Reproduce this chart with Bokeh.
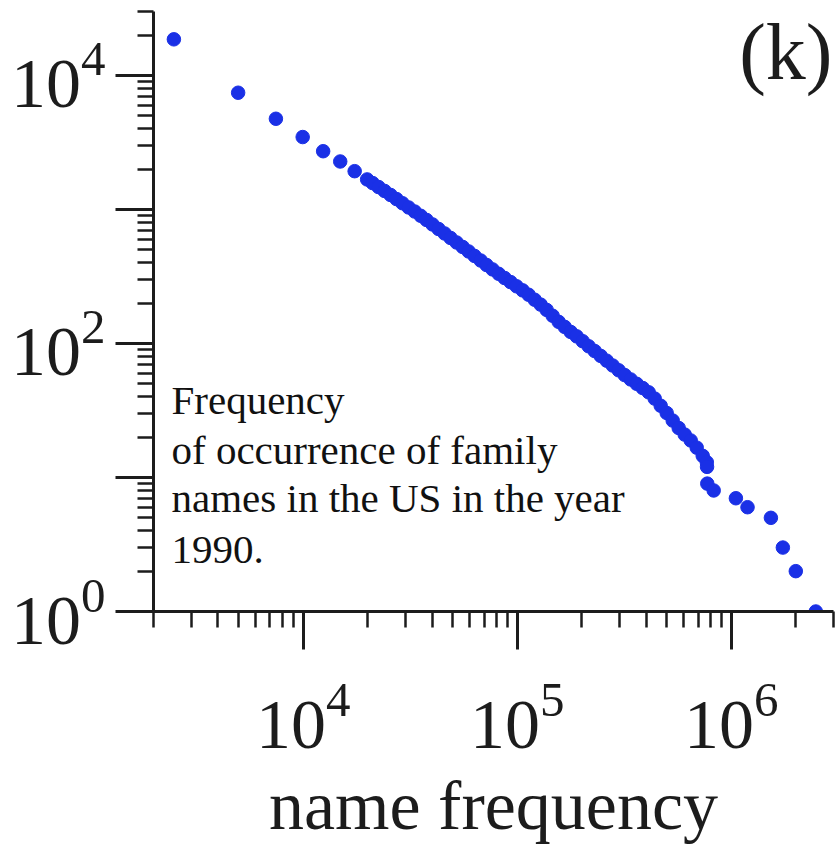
from bokeh.plotting import figure
from bokeh.models import Range1d, Label, LogTicker
from bokeh.embed import file_html
from bokeh.resources import INLINE

# ---- data (cumulative count of family names vs. name frequency) ----
name_freq = [
    2490, 4970, 7460, 9950, 12400, 14900, 17400, 19900,
    21100, 22500, 24000, 25600, 27300, 29100, 31100, 33200, 35400, 37700,
    40200, 42900, 45800, 48800, 52100, 55600, 59300, 63200, 67500, 71900,
    76700, 81900, 87300, 93100, 99300, 106000, 113000, 120600, 128600, 137200,
    146300, 156100, 166500, 177600, 189500, 202100, 215600, 230000, 245300, 261700,
    279100, 297700, 317600, 338800, 361300, 385500, 411100, 438500, 467700, 498900,
    532200, 567700, 605500, 646000, 689000, 735000,
    768000, 770000, 772000, 827000, 1050000, 1190000, 1530000, 1740000, 2000000, 2480000,
]
num_names = [
    18600, 7430, 4750, 3470, 2720, 2280, 1930, 1675,
    1574, 1470, 1375, 1283, 1195, 1113, 1035, 965, 897, 835,
    773, 715, 662, 613, 567, 525, 486, 450, 416, 385,
    357, 331, 308, 287, 267, 249, 231, 212, 195, 178,
    161, 145, 133, 122, 113, 104, 95.3, 87.8, 80.8, 74.4,
    68.5, 63.1, 58.1, 53.9, 50.0, 46.5, 43.2, 38.8, 34.3, 30.3,
    26.6, 23.4, 20.9, 18.9, 16.7, 14.5,
    13, 12, 9, 8, 7, 6, 5, 3, 2, 1,
]

X_MIN, X_MAX = 2000, 3e6
Y_MIN, Y_MAX = 1, 3e4
hidden_y_labels = {10: "", 1000: ""}

panel_tag = "(k)"
caption_lines = ["Frequency", "of occurrence of family", "names in the US in the year", "1990."]
x_title = "name frequency"

SERIF = "Liberation Serif"
INK = "#1c1c1c"
DOT = "#1a30e6"

p = figure(width=837, height=846, x_axis_type="log", y_axis_type="log",
           x_range=Range1d(X_MIN, X_MAX), y_range=Range1d(Y_MIN, Y_MAX),
           output_backend="svg", toolbar_location=None,
           min_border_left=153, min_border_right=4, min_border_top=11, min_border_bottom=235)

p.xgrid.grid_line_color = None
p.ygrid.grid_line_color = None
p.outline_line_color = None
p.background_fill_color = "white"
p.border_fill_color = "white"

for ax in (p.xaxis[0], p.yaxis[0]):
    ax.ticker = LogTicker(num_minor_ticks=10)
    ax.axis_line_width = 3
    ax.axis_line_color = INK
    ax.major_tick_line_width = 3
    ax.major_tick_line_color = INK
    ax.major_tick_out = 38
    ax.major_tick_in = 0
    ax.minor_tick_line_width = 2.5
    ax.minor_tick_line_color = INK
    ax.minor_tick_out = 16
    ax.minor_tick_in = 0
    ax.major_label_text_font = SERIF
    ax.major_label_text_font_size = "70px"
    ax.major_label_text_color = INK

p.yaxis[0].major_label_overrides = hidden_y_labels
p.yaxis[0].major_label_standoff = 10
p.xaxis[0].major_label_standoff = 34
p.xaxis[0].axis_label = x_title
p.xaxis[0].axis_label_text_font = SERIF
p.xaxis[0].axis_label_text_font_size = "70px"
p.xaxis[0].axis_label_text_font_style = "normal"
p.xaxis[0].axis_label_text_color = INK
p.xaxis[0].axis_label_standoff = 16

p.scatter(name_freq, num_names, size=13.5, fill_color=DOT, line_color=DOT, line_width=1)

p.add_layout(Label(x=679, y=560, x_units="screen", y_units="screen", text=panel_tag,
                   text_align="right", text_baseline="alphabetic",
                   text_font=SERIF, text_font_size="80px", text_color=INK))

caption_baselines = [212, 162, 114, 62]
for line, yb in zip(caption_lines, caption_baselines):
    p.add_layout(Label(x=18, y=yb, x_units="screen", y_units="screen", text=line,
                       text_align="left", text_baseline="alphabetic",
                       text_font=SERIF, text_font_size="41px", text_color="#111111"))

open("out.html", "w").write(file_html(p, INLINE))
